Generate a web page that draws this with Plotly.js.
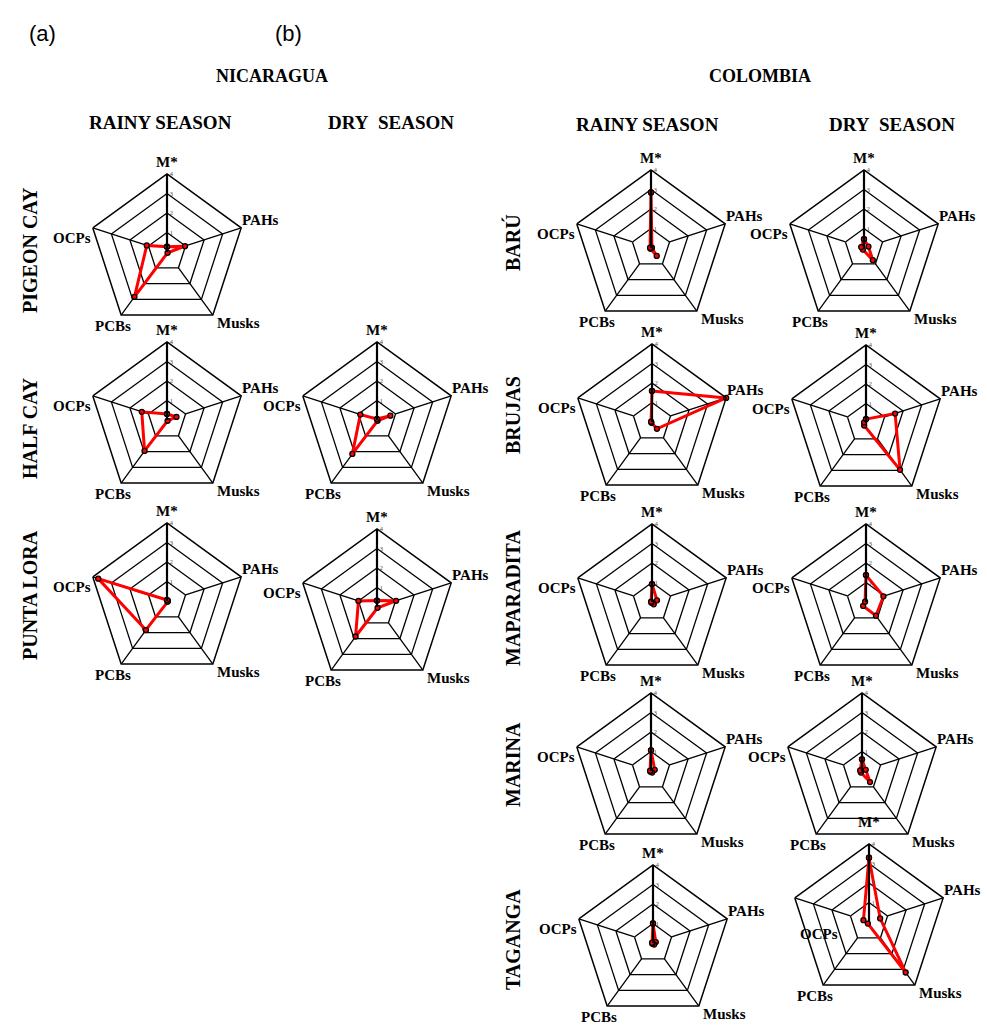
<!DOCTYPE html>
<html><head><meta charset="utf-8">
<script src="https://cdn.plot.ly/plotly-3.0.1.min.js"></script>
<style>html,body{margin:0;padding:0;background:#fff}</style>
</head><body><div id="chart" style="width:987px;height:1026px"></div>
<script>
const categories = ['M*','PAHs','Musks','PCBs','OCPs'];
const radialTicks = [1,2,3,4];
// values: M*, PAHs, Musks, PCBs, OCPs
const pigeonCayRainy = [0.27, 0.97, 0.05, 2.84, 1.09];
const halfCayRainy = [0.31, 0.51, 0.05, 1.96, 1.36];
const halfCayDry = [0.05, 0.72, 0.05, 2.15, 0.90];
const puntaLoraRainy = [0.05, 0.05, 0.05, 1.84, 3.71];
const puntaLoraDry = [0.33, 1.03, 0.05, 1.87, 1.00];
const baruRainy = [2.85, 0.05, 0.50, 0.05, 0.05];
const baruDry = [0.45, 0.24, 0.77, 0.10, 0.15];
const brujasRainy = [1.59, 4.00, 0.43, 0.05, 0.05];
const brujasDry = [0.20, 1.57, 2.97, 0.16, 0.10];
const maparaditaRainy = [0.92, 0.27, 0.15, 0.05, 0.05];
const maparaditaDry = [1.38, 0.94, 0.87, 0.25, 0.05];
const marinaRainy = [1.06, 0.20, 0.10, 0.05, 0.05];
const marinaDry = [0.60, 0.20, 0.70, 0.10, 0.10];
const tagangaRainy = [1.00, 0.15, 0.10, 0.05, 0.05];
const tagangaDry = [3.30, 0.60, 3.20, 0.10, 0.30];

const siteLabelsNic = ['PIGEON CAY','HALF CAY','PUNTA LORA'];
const siteLabelsCol = ['BARÚ','BRUJAS','MAPARADITA','MARINA','TAGANGA'];

const W = 987, H = 1026, R = 78;
const panels = [
  {v: pigeonCayRainy, cx: 167, cy: 252},
  {v: halfCayRainy, cx: 167, cy: 420},
  {v: halfCayDry, cx: 377, cy: 420},
  {v: puntaLoraRainy, cx: 167, cy: 601},
  {v: puntaLoraDry, cx: 377, cy: 607},
  {v: baruRainy, cx: 651, cy: 248},
  {v: baruDry, cx: 864, cy: 248},
  {v: brujasRainy, cx: 652, cy: 422},
  {v: brujasDry, cx: 866, cy: 423},
  {v: maparaditaRainy, cx: 652, cy: 602},
  {v: maparaditaDry, cx: 866, cy: 602},
  {v: marinaRainy, cx: 651, cy: 771},
  {v: marinaDry, cx: 862, cy: 771},
  {v: tagangaRainy, cx: 653, cy: 943},
  {v: tagangaDry, cx: 869, cy: 922, ocp: {dx: 24, dy: 36, xa: 'center'}, mstar: {dy: -22}}
];
// label offsets from each outer vertex (px)
const labelPos = [
  {dx: 0, dy: -12, xa: 'center'},
  {dx: 0, dy: -8, xa: 'left'},
  {dx: 3, dy: 8, xa: 'left'},
  {dx: -8, dy: 11, xa: 'center'},
  {dx: -1, dy: 10, xa: 'right'}
];

const data = [];
const layout = {
  width: W, height: H, margin: {l:0, r:0, t:0, b:0},
  paper_bgcolor: '#fff', showlegend: false, dragmode: false,
  annotations: []
};
const serif = 'Liberation Serif';
function ann(text, x, y, size, opts) {
  layout.annotations.push(Object.assign({
    text: '<b>' + text + '</b>', x: x / W, y: 1 - y / H, xref: 'paper', yref: 'paper',
    showarrow: false, xanchor: 'center', yanchor: 'middle', borderpad: 0,
    font: {family: serif, size: size, color: '#000'}
  }, opts || {}));
}

panels.forEach((p, i) => {
  const key = i === 0 ? 'polar' : 'polar' + (i + 1);
  layout[key] = {
    domain: {
      x: [(p.cx - R) / W, (p.cx + R) / W],
      y: [1 - (p.cy + R) / H, 1 - (p.cy - R) / H]
    },
    bgcolor: 'rgba(0,0,0,0)',
    gridshape: 'linear',
    radialaxis: {
      range: [0, 4], tickvals: radialTicks, angle: 90, tickangle: 90, side: 'clockwise',
      showline: true, linecolor: '#000', linewidth: 2.2,
      showgrid: true, gridcolor: '#000', gridwidth: 1.3,
      ticks: '', tickfont: {size: 7, color: '#555', family: serif}
    },
    angularaxis: {
      type: 'category', categoryarray: categories, rotation: 90, direction: 'clockwise',
      showline: true, linecolor: '#000', linewidth: 1.5,
      showgrid: false, ticks: '', showticklabels: false
    }
  };
  const sr = [], st = [];
  categories.slice(1).forEach(c => { sr.push(1, 4, null); st.push(c, c, null); });
  data.push({
    type: 'scatterpolar', subplot: key, r: sr, theta: st, mode: 'lines',
    line: {color: '#000', width: 1.3}, hoverinfo: 'skip', connectgaps: false
  });
  data.push({
    type: 'scatterpolar', subplot: key,
    r: p.v.concat([p.v[0]]), theta: categories.concat([categories[0]]),
    mode: 'lines+markers', cliponaxis: false,
    line: {color: '#ff0000', width: 3},
    marker: {size: 5, color: '#ff0000', line: {color: '#000', width: 1.3}}
  });
  categories.forEach((c, k) => {
    const a = (90 - 72 * k) * Math.PI / 180;
    const vx = p.cx + R * Math.cos(a), vy = p.cy - R * Math.sin(a);
    let lp = Object.assign({}, labelPos[k]);
    if (k === 4 && p.ocp) lp = Object.assign(lp, p.ocp);
    if (k === 0 && p.mstar) lp = Object.assign(lp, p.mstar);
    ann(c, vx + lp.dx, vy + lp.dy, 15, {xanchor: lp.xa});
  });
});

ann('(a)', 42, 33, 22, {text: '(a)', font: {family: 'Liberation Sans', size: 22, color: '#000'}});
ann('(b)', 288, 33, 22, {text: '(b)', font: {family: 'Liberation Sans', size: 22, color: '#000'}});
ann('NICARAGUA', 272, 76, 18);
ann('COLOMBIA', 760, 76, 18);
ann('RAINY SEASON', 160, 122, 19);
ann('DRY&nbsp; SEASON', 391, 122, 19);
ann('RAINY SEASON', 647, 124, 19);
ann('DRY&nbsp; SEASON', 892, 124, 19);
const nicY = [250, 428, 595];
siteLabelsNic.forEach((s, i) => ann(s, 30, nicY[i], 20, {textangle: -90}));
const colY = [243, 415, 598, 765, 940];
siteLabelsCol.forEach((s, i) => ann(s, 513, colY[i], 20, {textangle: -90}));

Plotly.newPlot('chart', data, layout, {displayModeBar: false, staticPlot: true});
</script>
</body></html>
